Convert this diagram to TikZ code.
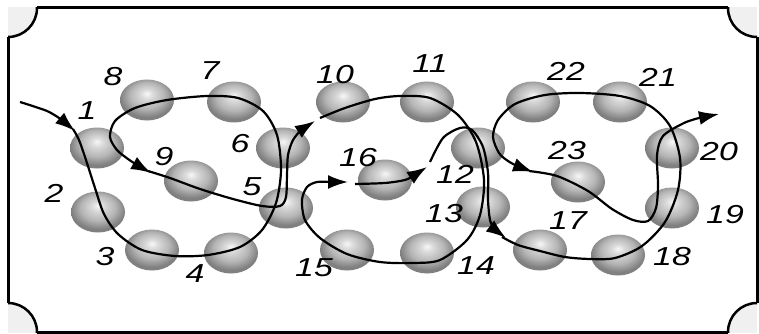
\documentclass[tikz,border=0pt]{standalone}
\usepackage{fontspec}
\usepackage{tikz}
\usetikzlibrary{shapes.geometric,arrows.meta}
\newfontfamily\numfont{Liberation Sans}[FakeStretch=1.3]
\pgfdeclareradialshading{ballshade}{\pgfpoint{0bp}{8bp}}{color(0bp)=(gray!6); color(6bp)=(gray!30); color(16bp)=(gray!58); color(25bp)=(gray); color(50bp)=(gray)}
\tikzset{
	ball/.style={ellipse, minimum width=54pt, minimum height=41pt, inner sep=0pt, shade, shading=ballshade},
	num/.style={font=\numfont\itshape\fontsize{26}{26}\selectfont, inner sep=0pt},
	thread/.style={line width=2.2pt, -{Latex[length=20pt,width=14pt]}},
}

\begin{document}
\begin{tikzpicture}[x=1pt,y=-1pt]
		\useasboundingbox (0,0) rectangle (759,334);
		\begin{scope}                           % corners
			\clip (8,8) rectangle (757,332);
			\foreach \cx/\cy in {8/8,757/8,757/332,8/332}
				\draw[line width=2.5pt, fill=gray!12] (\cx,\cy) circle (29pt);
		\end{scope}
		\draw[line width=3pt] (37,8) -- (728,8) (757,37) -- (757,303) (728,332) -- (37,332) (8,303) -- (8,37);
		% balls
		\foreach \n/\x/\y in {1/97/148, 2/98/212, 3/152/250, 4/231/253, 5/286/208, 6/283/148, 7/234/102, 8/147/100, 9/191/181,
			10/343/102, 11/427/102, 12/478/148, 13/483/207, 14/427/253, 15/347/250, 16/385/180,
			17/540/250, 18/618/255, 19/672/208, 20/672/148, 21/620/102, 22/533/102, 23/578/182}
			\node[ball] (b\n) at (\x,\y) {};
		% thread
		\draw[thread] plot[smooth] coordinates {(20,102) (47,111) (62,120)} -- (75,131);
		\draw[thread] plot[smooth] coordinates {(73,129) (79,140) (86,160) (95,188) (104,214) (118,234) (142,250) (175,256) (208,255) (240,247) (262,230) (276,203) (281,170) (277,135) (263,111) (238,98) (207,96) (167,100) (135,108) (115,121) (110,137) (117,150) (128,159) (137,165)} -- (151,173);
		\draw[thread] plot[smooth] coordinates {(148,171) (170,178) (200,189) (233,199) (262,206) (280,206) (286,197) (287,175) (288,155) (293,140) (301,130)} -- (315,121);
		\draw[thread] plot[smooth] coordinates {(320,118) (345,108) (375,99) (400,96) (430,98) (458,115) (476,142) (484,180) (480,215) (467,240) (440,260) (413,263) (380,262) (347,254) (320,238) (305,220) (302,200) (307,187) (317,182) (330,182)} -- (348,182);
		\draw[thread] plot[smooth] coordinates {(355,184) (385,183) (405,180) (413,176)} -- (427,167);
		\draw[thread] plot[smooth] coordinates {(430,162) (443,138) (460,128) (472,130) (483,147) (488,173) (488,200) (490,220) (494,229)} -- (506,238);
		\draw[thread] plot[smooth] coordinates {(502,237) (518,245) (540,251) (565,257) (590,259) (615,258) (642,246) (665,222) (678,190) (680,158) (670,126) (650,106) (620,96) (580,93) (545,95) (515,104) (498,120) (493,137) (499,153) (508,161) (517,166)} -- (533,172);
		\draw[thread] plot[smooth] coordinates {(529,171) (557,176) (588,191) (612,209) (633,220) (648,221) (656,208) (658,185) (657,155) (663,136) (684,123) (699,118)} -- (719,114);
		% numbers
		\foreach \n/\x/\y in {1/87/111, 2/54/193, 3/105/257, 4/195/274, 5/252/187, 6/240/144, 7/210/71, 8/113/77, 9/164/157,
			10/335/75, 11/430/64, 12/455/174, 13/444/214, 14/476/266, 15/314/268, 16/358/158,
			17/568/221, 18/672/257, 19/725/215, 20/719/152, 21/658/77, 22/566/71, 23/567/151}
			\node[num] (n\n) at (\x,\y) {\n};
\end{tikzpicture}
\end{document}
